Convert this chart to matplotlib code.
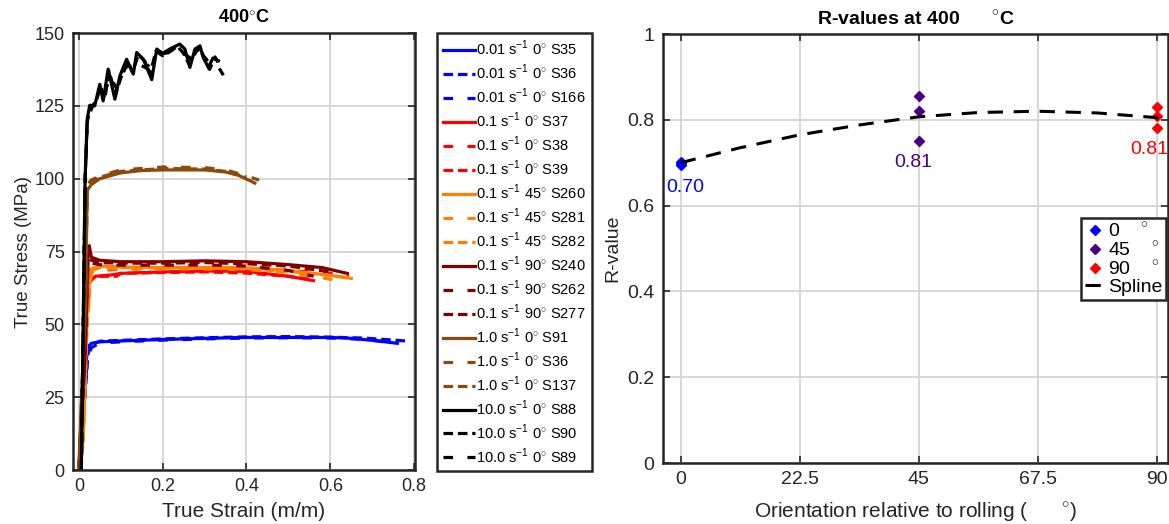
import matplotlib
matplotlib.use("Agg")
import matplotlib.pyplot as plt

plt.rcParams['font.family'] = ['Liberation Sans', 'DejaVu Sans']
plt.rcParams['mathtext.fontset'] = 'custom'
plt.rcParams['mathtext.rm'] = 'Liberation Sans'

# ---- left plot: stress-strain curves (strain, stress) ----
blue = '#0000ff'
red = '#ff0000'
orange = '#ff8000'
darkred = '#800000'
brown = '#8b4a0c'
black = '#000000'

s35_x = [0, 0.015, 0.02, 0.03, 0.05, 0.1, 0.2, 0.3, 0.4, 0.5, 0.6, 0.65, 0.7, 0.76]
s35_y = [0, 30, 42, 43.5, 44, 44.3, 44.8, 45.2, 45.5, 45.5, 45.5, 45.2, 44.5, 43.5]
s36b_x = [0, 0.016, 0.022, 0.03, 0.05, 0.1, 0.2, 0.3, 0.4, 0.5, 0.6, 0.68, 0.74, 0.78]
s36b_y = [0, 28, 40, 43, 44.2, 44.5, 45, 45.4, 45.7, 45.8, 45.6, 45.3, 44.7, 44.3]
s166_x = [0, 0.014, 0.02, 0.03, 0.05, 0.1, 0.2, 0.3, 0.4, 0.5, 0.6, 0.66, 0.71, 0.75]
s166_y = [0, 25, 38, 42, 43.6, 44, 44.6, 45, 45.3, 45.4, 45.3, 45, 44.4, 43.8]

s37_x = [0, 0.012, 0.02, 0.025, 0.04, 0.08, 0.1, 0.2, 0.3, 0.4, 0.5, 0.56]
s37_y = [0, 30, 62, 65, 66.5, 67, 67.5, 68, 68.3, 68.2, 66.5, 65]
s38_x = [0, 0.014, 0.022, 0.03, 0.05, 0.1, 0.2, 0.3, 0.4, 0.5, 0.6, 0.645]
s38_y = [0, 35, 66, 68, 68.5, 69, 69.3, 69.5, 69.3, 68.5, 67.5, 67]
s39_x = [0, 0.013, 0.022, 0.04, 0.09, 0.1, 0.2, 0.3, 0.4, 0.5, 0.55]
s39_y = [0, 30, 64, 66.5, 66.5, 67.5, 67.8, 68, 67.6, 66.5, 65.5]

s260_x = [0, 0.01, 0.02, 0.028, 0.05, 0.1, 0.2, 0.3, 0.4, 0.5, 0.6, 0.65]
s260_y = [0, 10, 55, 69, 70, 69.7, 69.5, 69.5, 69.4, 68.5, 66.8, 65.8]
s281_x = [0, 0.011, 0.02, 0.03, 0.05, 0.1, 0.2, 0.3, 0.4, 0.5, 0.58, 0.62]
s281_y = [0, 12, 52, 68, 69, 69, 69, 69, 68.8, 67.8, 66, 65]
s282_x = [0, 0.01, 0.02, 0.03, 0.05, 0.1, 0.2, 0.3, 0.4, 0.5, 0.6, 0.64]
s282_y = [0, 8, 50, 68.5, 69.5, 69.5, 69.4, 69.3, 69, 68.2, 66.8, 66]

s240_x = [0, 0.015, 0.022, 0.025, 0.03, 0.05, 0.1, 0.2, 0.3, 0.4, 0.5, 0.58, 0.64]
s240_y = [0, 40, 74, 77, 73, 72, 71.5, 71.5, 71.8, 71.5, 70.5, 69.5, 67.5]
s262_x = [0, 0.015, 0.022, 0.03, 0.05, 0.1, 0.2, 0.3, 0.4, 0.5, 0.56]
s262_y = [0, 40, 72, 71, 70.5, 70.3, 70.3, 70.4, 70, 68.5, 66.5]
s277_x = [0, 0.015, 0.022, 0.03, 0.05, 0.1, 0.2, 0.3, 0.4, 0.5, 0.6]
s277_y = [0, 40, 73, 72, 71.2, 71, 71, 71.2, 70.8, 70, 68]

s91_x = [0, 0.016, 0.02, 0.03, 0.05, 0.1, 0.15, 0.2, 0.25, 0.3, 0.35, 0.38, 0.41, 0.42]
s91_y = [0, 60, 96, 98, 100, 102, 102.8, 103, 103, 103, 102.3, 101.2, 99.2, 98.5]
s36r_x = [0, 0.016, 0.02, 0.03, 0.05, 0.1, 0.2, 0.3, 0.35, 0.4, 0.43]
s36r_y = [0, 60, 98, 99.5, 101, 103, 104, 103.8, 103, 101, 99.5]
s137_x = [0, 0.016, 0.02, 0.03, 0.05, 0.1, 0.2, 0.3, 0.35, 0.4]
s137_y = [0, 58, 97, 99, 100.5, 102.5, 103.5, 103.3, 102.5, 100.5]

s88_x = [0.006, 0.015, 0.02, 0.026, 0.038, 0.05, 0.058, 0.07, 0.086, 0.098, 0.114, 0.13,
         0.138, 0.154, 0.174, 0.186, 0.2, 0.217, 0.241, 0.253, 0.265, 0.277, 0.289,
         0.297, 0.309, 0.32, 0.333]
s88_y = [0, 100, 120.4, 125.2, 125, 132.4, 126.7, 137.6, 127.3, 135.3, 141, 135.9,
         143.3, 141, 134, 144.5, 143, 144.5, 146.2, 144.5, 138.2, 144.5, 145.6,
         141.6, 138.2, 141.4, 140.5]
s90_x = [0.006, 0.015, 0.02, 0.028, 0.04, 0.052, 0.062, 0.072, 0.088, 0.1, 0.118, 0.128,
         0.142, 0.158, 0.17, 0.184, 0.2, 0.22, 0.235, 0.25, 0.262, 0.28, 0.29,
         0.302, 0.312, 0.325, 0.335]
s90_y = [0, 100, 119.5, 124.5, 126, 131.5, 127.5, 136.8, 129, 134.5, 140.2, 136.5,
         142.5, 140.2, 136, 143.8, 142.2, 143.8, 145.5, 143, 139.5, 143.6, 144.8,
         140, 137.5, 141.8, 139]
s89_x = [0.006, 0.015, 0.02, 0.03, 0.045, 0.06, 0.075, 0.09, 0.11, 0.135, 0.16, 0.19,
         0.22, 0.25, 0.27, 0.29, 0.31, 0.33, 0.345]
s89_y = [0, 98, 119, 124, 128, 129, 135, 131, 138, 140, 138, 142.5, 143.5, 143,
         141, 143.5, 140, 139, 135.5]

solid = '-'
dash = (0, (3, 1.5))
gap = (0, (3, 4.5))

curves = [
    (s35_x, s35_y, blue, solid, '0.01 s$^{-1}$ 0$^{\\circ}$ S35'),
    (s36b_x, s36b_y, blue, dash, '0.01 s$^{-1}$ 0$^{\\circ}$ S36'),
    (s166_x, s166_y, blue, gap, '0.01 s$^{-1}$ 0$^{\\circ}$ S166'),
    (s37_x, s37_y, red, solid, '0.1 s$^{-1}$ 0$^{\\circ}$ S37'),
    (s38_x, s38_y, red, gap, '0.1 s$^{-1}$ 0$^{\\circ}$ S38'),
    (s39_x, s39_y, red, dash, '0.1 s$^{-1}$ 0$^{\\circ}$ S39'),
    (s260_x, s260_y, orange, solid, '0.1 s$^{-1}$ 45$^{\\circ}$ S260'),
    (s281_x, s281_y, orange, gap, '0.1 s$^{-1}$ 45$^{\\circ}$ S281'),
    (s282_x, s282_y, orange, dash, '0.1 s$^{-1}$ 45$^{\\circ}$ S282'),
    (s240_x, s240_y, darkred, solid, '0.1 s$^{-1}$ 90$^{\\circ}$ S240'),
    (s262_x, s262_y, darkred, gap, '0.1 s$^{-1}$ 90$^{\\circ}$ S262'),
    (s277_x, s277_y, darkred, dash, '0.1 s$^{-1}$ 90$^{\\circ}$ S277'),
    (s91_x, s91_y, brown, solid, '1.0 s$^{-1}$ 0$^{\\circ}$ S91'),
    (s36r_x, s36r_y, brown, gap, '1.0 s$^{-1}$ 0$^{\\circ}$ S36'),
    (s137_x, s137_y, brown, dash, '1.0 s$^{-1}$ 0$^{\\circ}$ S137'),
    (s88_x, s88_y, black, solid, '10.0 s$^{-1}$ 0$^{\\circ}$ S88'),
    (s90_x, s90_y, black, dash, '10.0 s$^{-1}$ 0$^{\\circ}$ S90'),
    (s89_x, s89_y, black, gap, '10.0 s$^{-1}$ 0$^{\\circ}$ S89'),
]

# ---- right plot: R-values ----
ang_0 = [0, 0, 0]
r_0 = [0.700, 0.695, 0.702]
ang_45 = [45, 45, 45]
r_45 = [0.855, 0.820, 0.750]
ang_90 = [90, 90, 90]
r_90 = [0.830, 0.810, 0.780]
spline_ang = [0, 11.25, 22.5, 33.75, 45, 56.25, 67.5, 78.75, 90, 93]
spline_r = [0.700, 0.735, 0.765, 0.788, 0.807, 0.817, 0.820, 0.816, 0.805, 0.800]
mean_labels = ['0.70', '0.81', '0.81']
indigo = '#4b0082'

tick_col = '#262626'

fig = plt.figure(figsize=(11.69, 5.24), dpi=100)


def style(ax, size):
    ax.grid(True, color='#d4d4d4', lw=1.3)
    ax.set_axisbelow(True)
    ax.tick_params(direction='in', length=5, width=1.2, top=True, right=True,
                   labelsize=size, colors=tick_col, pad=6)
    for sp in ax.spines.values():
        sp.set_linewidth(1.8)
        sp.set_color(tick_col)


ax1 = fig.add_axes([0.0624, 0.103, 0.2926, 0.834])
for xs, ys, c, ls, lab in curves:
    ax1.plot(xs, ys, color=c, linestyle=ls, lw=2.3, label=lab)
ax1.set_xlim(-0.014, 0.802)
ax1.set_ylim(0, 150)
ax1.set_xticks([0, 0.2, 0.4, 0.6, 0.8])
ax1.set_xticklabels(['0', '0.2', '0.4', '0.6', '0.8'])
ax1.set_yticks([0, 25, 50, 75, 100, 125, 150])
style(ax1, 13)
ax1.set_xlabel('True Strain (m/m)', fontsize=15, color=tick_col, labelpad=5)
ax1.set_ylabel('True Stress (MPa)', fontsize=13.5, color=tick_col, labelpad=2)
ax1.set_title('400$^{\\circ}$C', fontsize=13, fontweight='bold', pad=8)

leg1 = fig.legend(handles=ax1.get_lines(), loc='upper left',
                  bbox_to_anchor=(437 / 1169, 1 - 33 / 524), fontsize=10.5,
                  frameon=True, fancybox=False, framealpha=1, edgecolor=tick_col,
                  handlelength=2.2, handletextpad=0.1, labelspacing=0.32,
                  borderpad=0.4, borderaxespad=0)
leg1.get_frame().set_linewidth(1.8)

ax2 = fig.add_axes([0.567, 0.1164, 0.432, 0.8187])
ax2.plot(ang_0, r_0, 'D', color=blue, ms=5.5, label='0    $^{\\circ}$')
ax2.plot(ang_45, r_45, 'D', color=indigo, ms=5.5, label='45    $^{\\circ}$')
ax2.plot(ang_90, r_90, 'D', color=red, ms=5.5, label='90    $^{\\circ}$')
ax2.plot(spline_ang, spline_r, color='black', lw=2.2, linestyle=(0, (5, 3.5)), label='Spline')
ax2.text(-2.8, 0.643, mean_labels[0], color=blue, fontsize=14, va='center', ha='left')
ax2.text(44, 0.70, mean_labels[1], color=indigo, fontsize=14, va='center', ha='center')
ax2.text(88.5, 0.73, mean_labels[2], color=red, fontsize=14, va='center', ha='center')
ax2.set_xlim(-3.4, 92.1)
ax2.set_ylim(0, 1)
ax2.set_xticks([0, 22.5, 45, 67.5, 90])
ax2.set_xticklabels(['0', '22.5', '45', '67.5', '90'])
ax2.set_yticks([0, 0.2, 0.4, 0.6, 0.8, 1])
ax2.set_yticklabels(['0', '0.2', '0.4', '0.6', '0.8', '1'])
style(ax2, 14)
ax2.set_xlabel('Orientation relative to rolling (      $^{\\circ}$)', fontsize=15,
               color=tick_col, labelpad=9)
ax2.set_ylabel('R-value', fontsize=14, color=tick_col, labelpad=4)
ax2.set_title('R-values at 400      $^{\\circ}$C', fontsize=14, fontweight='bold', pad=7)

leg2 = fig.legend(handles=ax2.get_lines(), loc='upper left',
                  bbox_to_anchor=(1081 / 1169, 1 - 218 / 524), fontsize=14,
                  frameon=True, fancybox=False, framealpha=1, edgecolor=tick_col,
                  handlelength=1.0, handletextpad=0.2, labelspacing=0.0,
                  borderpad=0.2, borderaxespad=0)
leg2.get_frame().set_linewidth(1.8)

fig.savefig('out.png', dpi=100)
